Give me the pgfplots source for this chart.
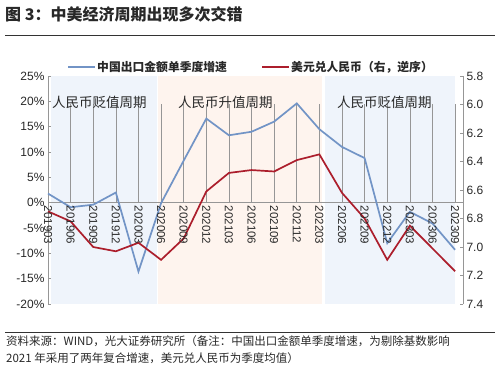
\documentclass[border=0pt]{standalone}
\usepackage{fontspec}
\setmainfont{Liberation Sans}
\newfontfamily\cjk{Noto Sans CJK SC}
\usepackage{pgfplots}
\pgfplotsset{compat=1.18}
\definecolor{cblue}{RGB}{114,148,198}
\definecolor{cred}{RGB}{172,30,44}
\definecolor{shblue}{RGB}{239,244,251}
\definecolor{shpeach}{RGB}{254,244,238}
\definecolor{axgray}{RGB}{150,150,150}
\definecolor{txt}{RGB}{40,40,40}
\pgfplotstableread{
x blue red
0 1.8 6.75
1 -0.9 6.82
2 -0.4 7.00
3 2.0 7.03
4 -13.6 6.97
5 -0.1 7.09
6 8.3 6.94
7 16.6 6.61
8 13.3 6.48
9 14.0 6.46
10 16.0 6.47
11 19.6 6.39
12 14.5 6.35
13 11.0 6.62
14 8.8 6.80
15 -8.0 7.09
16 -1.8 6.85
17 -4.1 7.01
18 -9.3 7.17
}\datatab
\begin{document}
\begin{tikzpicture}
\useasboundingbox (0pt,0pt) rectangle (500pt,-368pt);
\node[anchor=west,inner sep=0,font=\cjk\bfseries\fontsize{16}{18}\selectfont,text=txt] at (5pt,-14pt) {图 3：中美经济周期出现多次交错};
\draw[line width=1pt,black!80] (5pt,-35pt) -- (495pt,-35pt);
\begin{axis}[
  at={(48pt,-304pt)}, anchor=south west, scale only axis,
  width=415pt, height=228pt,
  xmin=0, xmax=18.35, ymin=-20, ymax=25,
  axis y line*=left, axis x line=none,
  axis line style={axgray, line width=0.6pt},
  every outer y axis line/.append style={-},
  tick style={axgray, line width=0.6pt},
  major tick length=3pt,
  xtick=\empty,
  ytick={-20,-15,...,25},
  yticklabel={\pgfmathprintnumber{\tick}\%},
  yticklabel style={font=\fontsize{12}{13}\selectfont, text=txt, /pgf/number format/assume math mode=true},
  tick align=inside,
  clip=false,
]
\fill[shblue] (0.15,-20) rectangle (4.8,25);
\fill[shpeach] (4.85,-20) rectangle (12.12,25);
\fill[shblue] (12.25,-20) rectangle (18.0,25);
\draw[axgray, line width=0.6pt] (0,0) -- (18.35,0);
\pgfplotsinvokeforeach{0,...,18}{\draw[axgray, line width=0.6pt] (#1,0) -- ++(0,-3pt);}
\addplot[cblue, line width=1.7pt, mark=none] table[x=x,y=blue] {\datatab};
\end{axis}
\begin{axis}[
  at={(48pt,-304pt)}, anchor=south west, scale only axis,
  width=415pt, height=228pt,
  xmin=0, xmax=18.35, ymin=5.8, ymax=7.4, y dir=reverse,
  axis y line*=right, axis x line=none,
  axis line style={axgray, line width=0.6pt},
  every outer y axis line/.append style={-},
  tick style={axgray, line width=0.6pt},
  major tick length=3pt, tick align=inside,
  ytick={5.8,6.0,6.2,6.4,6.6,6.8,7.0,7.2,7.4},
  yticklabel style={font=\fontsize{12}{13}\selectfont, text=txt, /pgf/number format/assume math mode=true, /pgf/number format/fixed, /pgf/number format/fixed zerofill, /pgf/number format/precision=1},
  clip=false,
]
\addplot[cred, line width=1.7pt, mark=none] table[x=x,y=red] {\datatab};
\end{axis}
% x tick labels on the zero line
\begin{axis}[
  at={(48pt,-304pt)}, anchor=south west, scale only axis,
  width=415pt, height=228pt,
  xmin=0, xmax=18.35, ymin=-20, ymax=25,
  hide y axis, axis x line*=middle, axis line style={draw=none},
  hide obscured x ticks=false,
  xtick={0,...,18}, major tick length=0pt,
  xticklabels={201903,201906,201909,201912,202003,202006,202009,202012,202103,202106,202109,202112,202203,202206,202209,202212,202303,202306,202309},
  xticklabel style={rotate=-90, anchor=west, font=\fontsize{11.5}{12}\selectfont, text=txt, inner sep=1.5pt, xshift=1.5pt},
]
\end{axis}
% annotations
\node[anchor=west,inner sep=0,font=\cjk\fontsize{13.5}{15}\selectfont,text=txt] at (52pt,-102pt) {人民币贬值周期};
\node[anchor=west,inner sep=0,font=\cjk\fontsize{13.5}{15}\selectfont,text=txt] at (178pt,-102pt) {人民币升值周期};
\node[anchor=west,inner sep=0,font=\cjk\fontsize{13.5}{15}\selectfont,text=txt] at (337pt,-102pt) {人民币贬值周期};
% legend
\draw[cblue, line width=1.7pt] (68pt,-67pt) -- (95pt,-67pt);
\node[anchor=west,inner sep=0,font=\cjk\bfseries\fontsize{11.8}{13}\selectfont,text=txt] at (97pt,-67pt) {中国出口金额单季度增速};
\draw[cred, line width=1.7pt] (262pt,-67pt) -- (289pt,-67pt);
\node[anchor=west,inner sep=0,font=\cjk\bfseries\fontsize{11.8}{13}\selectfont,text=txt] at (291pt,-67pt) {美元兑人民币（右，逆序）};
% source
\draw[line width=1pt,black!80] (5pt,-332pt) -- (495pt,-332pt);
\node[anchor=north west,inner sep=0,align=left,font=\cjk\fontsize{11.5}{17}\selectfont,text=txt] at (6pt,-335pt) {资料来源：WIND，光大证券研究所（备注：中国出口金额单季度增速，为剔除基数影响\\2021 年采用了两年复合增速，美元兑人民币为季度均值）};
\end{tikzpicture}
\end{document}
